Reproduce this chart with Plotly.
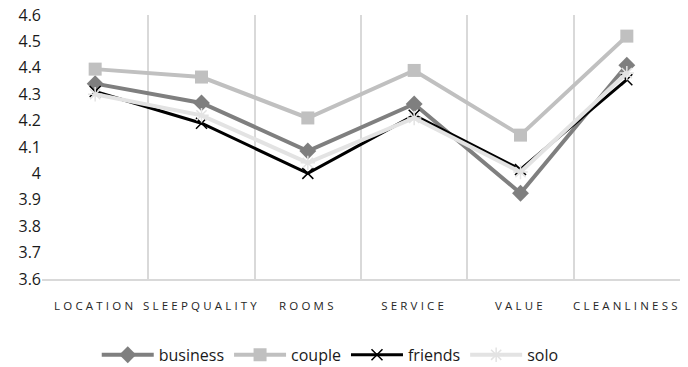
import plotly.graph_objects as go

categories = ["LOCATION", "SLEEPQUALITY", "ROOMS", "SERVICE", "VALUE", "CLEANLINESS"]
business = [4.34, 4.267, 4.085, 4.263, 3.925, 4.41]
couple = [4.395, 4.365, 4.21, 4.39, 4.145, 4.52]
friends = [4.31, 4.19, 4.0, 4.22, 4.015, 4.355]
solo = [4.30, 4.22, 4.04, 4.21, 4.005, 4.38]

fig = go.Figure()
fig.add_trace(go.Scatter(x=categories, y=business, name="business", mode="lines+markers",
                         line=dict(color="#7f7f7f", width=4),
                         marker=dict(symbol="diamond", size=13, color="#7f7f7f")))
fig.add_trace(go.Scatter(x=categories, y=couple, name="couple", mode="lines+markers",
                         line=dict(color="#c0c0c0", width=4),
                         marker=dict(symbol="square", size=13, color="#c0c0c0")))
fig.add_trace(go.Scatter(x=categories, y=friends, name="friends", mode="lines+markers",
                         line=dict(color="#000000", width=3),
                         marker=dict(symbol="x-thin-open", size=11, color="#000000",
                                     line=dict(color="#000000", width=1.5))))
fig.add_trace(go.Scatter(x=categories, y=solo, name="solo", mode="lines+markers",
                         line=dict(color="#e3e3e3", width=4),
                         marker=dict(symbol="asterisk-open", size=12, color="#e3e3e3",
                                     line=dict(color="#e3e3e3", width=1.5))))

ticktext = ['<span style="letter-spacing:3.2px">%s</span>' % c for c in categories]

fig.update_layout(
    width=688, height=367,
    margin=dict(l=42, r=8, t=15, b=88, autoexpand=False),
    paper_bgcolor="white", plot_bgcolor="white",
    font=dict(family="Open Sans", color="#404040"),
    showlegend=True,
    legend=dict(orientation="h", x=0.48, xanchor="center", xref="container",
                y=0.033, yanchor="middle", yref="container",
                font=dict(size=16, color="#1a1a1a"), itemwidth=52, traceorder="normal"),
    xaxis=dict(type="category", range=[-0.5, 5.5], tickson="boundaries",
               tickmode="array", tickvals=categories, ticktext=ticktext,
               showgrid=True, gridcolor="#d9d9d9", gridwidth=1.5,
               showline=True, linecolor="#d9d9d9", linewidth=1.5,
               ticks="", ticklabelstandoff=15, tickangle=0, automargin=False,
               tickfont=dict(size=11.5, color="#262626", family="Open Sans")),
    yaxis=dict(range=[3.6, 4.6], dtick=0.1, showgrid=False, zeroline=False,
               showline=False, ticks="", automargin=False,
               tickfont=dict(size=16, color="#1a1a1a")),
)

fig.write_html("out.html")
